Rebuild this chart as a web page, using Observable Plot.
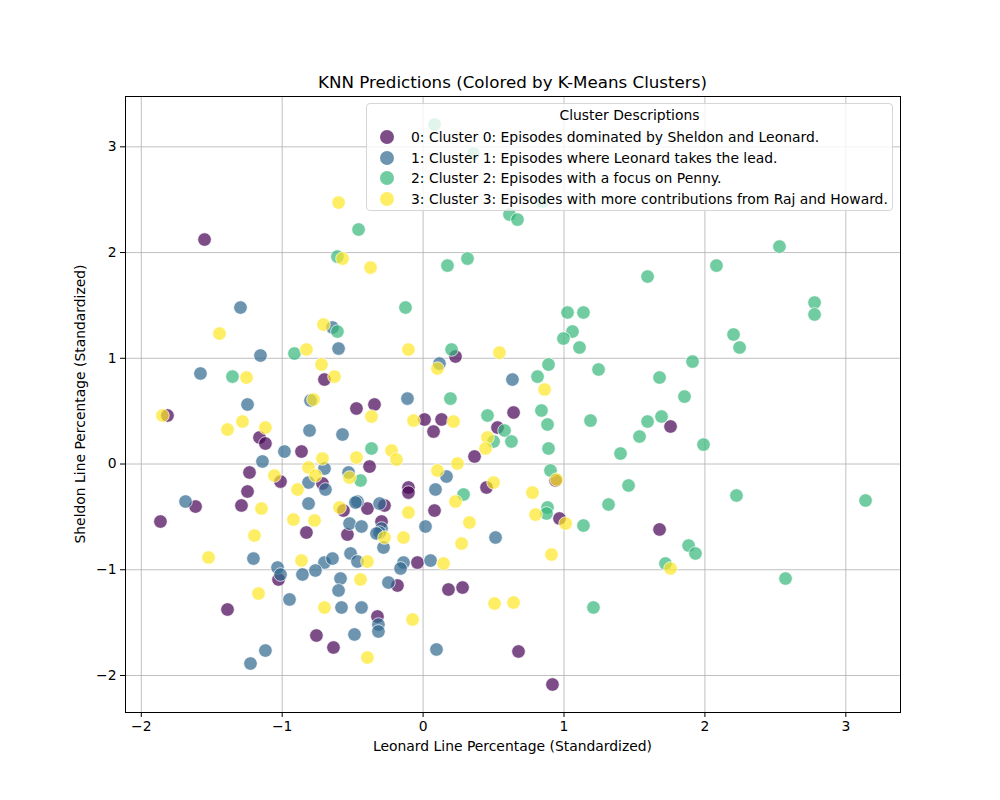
<!DOCTYPE html>
<html>
<head>
<meta charset="utf-8">
<script src="https://cdn.jsdelivr.net/npm/d3@7"></script>
<script src="https://cdn.jsdelivr.net/npm/@observablehq/plot@0.6"></script>
<style>
  body { margin: 0; background: #fff; font-family: "DejaVu Sans", sans-serif; }
  #wrap { position: relative; width: 1000px; height: 800px; }
  #chart { position: absolute; left: 0; top: 0; }
  .title { position: absolute; left: 125px; width: 775px; top: 72px; text-align: center; font-size: 16.7px; }
  .xlabel { position: absolute; left: 125px; width: 775px; top: 738px; text-align: center; font-size: 13.9px; }
  .ylabel { position: absolute; left: 80px; top: 404px; transform: translate(-50%, -50%) rotate(-90deg); white-space: nowrap; font-size: 13.9px; }
  .legend { position: absolute; left: 366px; top: 103px; width: 525px; height: 106px; background: rgba(255,255,255,0.8); border: 1px solid #d6d6d6; border-radius: 4px; font-size: 13.9px; }
  .legend .lt { position: absolute; left: 0; width: 100%; top: 3px; text-align: center; }
  .legend .row { position: absolute; left: 0; height: 20px; line-height: 20px; white-space: nowrap; }
  .legend .mk { position: absolute; left: 13px; top: 3px; width: 14px; height: 14px; border-radius: 50%; opacity: 0.7; }
  .legend .tx { position: absolute; left: 44px; top: 0; }
</style>
</head>
<body>
<div id="wrap">
  <div id="chart"></div>
  <div class="title">KNN Predictions (Colored by K-Means Clusters)</div>
  <div class="xlabel">Leonard Line Percentage (Standardized)</div>
  <div class="ylabel">Sheldon Line Percentage (Standardized)</div>
  <div class="legend" id="legend"></div>
</div>
<script>
// Cluster 0 (x, y)
const cluster0 = [
  [-1.551,2.123],[-1.814,0.459],[-1.161,0.251],[-1.119,0.194],[-0.863,0.118],[-1.232,-0.080],
  [-1.012,-0.166],[-0.714,-0.184],[-1.246,-0.260],[-1.615,-0.402],[-1.289,-0.392],[-1.864,-0.544],
  [-0.828,-0.648],[-1.388,-1.376],[-0.757,-1.622],[-1.026,-1.092],[-0.700,0.799],[0.230,1.017],
  [-0.473,0.525],[-0.345,0.563],[0.010,0.421],[0.131,0.421],[0.074,0.307],[0.528,0.345],
  [0.365,0.071],[-0.380,-0.024],[-0.104,-0.222],[-0.104,-0.270],[0.450,-0.222],[-0.565,-0.440],
  [-0.395,-0.421],[-0.274,-0.392],[0.081,-0.440],[-0.537,-0.667],[-0.295,-0.544],[-0.040,-0.932],
  [-0.182,-1.149],[0.180,-1.187],[0.280,-1.168],[-0.324,-1.442],[-0.636,-1.735],[0.642,0.487],
  [1.756,0.355],[0.940,-0.156],[0.968,-0.515],[1.678,-0.619],[0.677,-1.773],[0.918,-2.085]
];
// Cluster 1 (x, y)
const cluster1 = [
  [-1.296,1.480],[-1.154,1.026],[-1.580,0.856],[-1.246,0.563],[-0.799,0.601],[-0.806,0.317],
  [-0.984,0.118],[-1.140,0.024],[-0.813,-0.175],[-1.686,-0.355],[-0.813,-0.374],[-1.204,-0.894],
  [-0.700,-0.932],[-1.033,-0.979],[-1.012,-1.045],[-0.856,-1.045],[-0.764,-1.007],[-0.948,-1.281],
  [-1.119,-1.764],[-1.225,-1.887],[-0.643,1.291],[-0.600,1.092],[0.116,0.950],[-0.111,0.619],
  [-0.572,0.279],[-0.700,-0.043],[-0.529,-0.080],[0.166,-0.118],[-0.693,-0.241],[0.088,-0.241],
  [-0.466,-0.355],[-0.480,-0.364],[-0.309,-0.374],[-0.522,-0.563],[-0.437,-0.591],[-0.295,-0.610],
  [-0.309,-0.648],[-0.331,-0.657],[-0.281,-0.790],[0.017,-0.591],[0.514,-0.695],[-0.643,-0.894],
  [-0.515,-0.846],[-0.466,-0.922],[-0.139,-0.932],[-0.160,-0.988],[0.053,-0.913],[-0.586,-1.083],
  [-0.246,-1.121],[-0.600,-1.196],[-0.579,-1.357],[-0.437,-1.357],[-0.317,-1.518],[-0.317,-1.584],
  [-0.487,-1.612],[0.095,-1.754],[0.634,0.799]
];
// Cluster 2 (x, y)
const cluster2 = [
  [-0.913,1.045],[-1.353,0.827],[-0.125,1.480],[-0.608,1.253],[0.202,1.083],[0.194,0.619],
  [0.457,0.459],[0.500,0.213],[-0.366,0.147],[-0.444,-0.156],[0.287,-0.288],[1.025,1.433],
  [1.138,1.433],[1.060,1.253],[0.996,1.187],[1.110,1.102],[0.890,0.941],[1.912,0.969],
  [1.245,0.894],[1.678,0.818],[0.812,0.827],[1.855,0.638],[0.840,0.506],[1.188,0.411],
  [1.593,0.402],[1.692,0.449],[0.578,0.317],[0.883,0.374],[0.627,0.213],[1.536,0.260],
  [0.890,0.147],[1.401,0.099],[1.990,0.184],[0.904,-0.061],[1.458,-0.203],[1.316,-0.383],
  [0.883,-0.411],[0.876,-0.468],[1.138,-0.582],[1.884,-0.771],[1.933,-0.846],[1.720,-0.941],
  [1.209,-1.357],[2.529,2.057],[2.082,1.877],[2.778,1.527],[2.778,1.414],[2.203,1.225],
  [2.246,1.102],[2.224,-0.298],[3.140,-0.345],[2.572,-1.083],[1.593,1.773],[0.613,2.360],
  [0.670,2.312],[0.173,1.877],[0.315,1.943],[0.081,3.211],[0.358,2.936],[0.847,2.483],
  [-0.458,2.218],[-0.608,1.962]
];
// Cluster 3 (x, y)
const cluster3 = [
  [-1.445,1.234],[-0.828,1.083],[-1.253,0.818],[-0.721,0.941],[-0.778,0.610],[-1.850,0.459],
  [-1.282,0.402],[-1.388,0.326],[-1.119,0.345],[-0.714,0.052],[-0.813,-0.033],[-0.764,-0.109],
  [-1.055,-0.109],[-0.891,-0.241],[-1.147,-0.421],[-0.920,-0.525],[-0.771,-0.534],[-1.197,-0.676],
  [-1.523,-0.884],[-0.863,-0.913],[-1.168,-1.225],[-0.700,-1.357],[-0.707,1.319],[-0.104,1.083],
  [0.542,1.054],[0.102,0.903],[-0.629,0.827],[-0.366,0.449],[-0.068,0.411],[0.216,0.402],
  [0.457,0.251],[-0.224,0.128],[-0.189,0.043],[-0.473,0.061],[0.443,0.147],[0.244,0.005],
  [-0.522,-0.128],[0.102,-0.061],[0.500,-0.175],[0.230,-0.355],[-0.593,-0.411],[-0.104,-0.459],
  [0.329,-0.553],[0.273,-0.752],[-0.274,-0.695],[-0.139,-0.695],[-0.395,-0.922],[0.145,-0.941],
  [-0.444,-1.092],[0.507,-1.319],[-0.075,-1.471],[-0.395,-1.830],[0.862,0.705],[0.947,-0.147],
  [0.776,-0.270],[0.798,-0.478],[1.011,-0.563],[0.911,-0.856],[1.756,-0.988],[0.642,-1.310],
  [-0.600,2.473],[-0.572,1.943],[-0.373,1.858]
];
const clusterColors = ["#440154", "#31688e", "#35b779", "#fde725"];
const clusterLabels = [
  "0: Cluster 0: Episodes dominated by Sheldon and Leonard.",
  "1: Cluster 1: Episodes where Leonard takes the lead.",
  "2: Cluster 2: Episodes with a focus on Penny.",
  "3: Cluster 3: Episodes with more contributions from Raj and Howard."
];
const xTicks = [-2, -1, 0, 1, 2, 3];
const yTicks = [-2, -1, 0, 1, 2, 3];
const fmt = d3.format("d");

const data = [cluster0, cluster1, cluster2, cluster3].flatMap((arr, c) =>
  arr.map(([x, y]) => ({x, y, c}))
);

const chart = Plot.plot({
  width: 1000,
  height: 800,
  marginLeft: 125,
  marginRight: 100,
  marginTop: 96,
  marginBottom: 88,
  style: {fontFamily: "DejaVu Sans, sans-serif", fontSize: "13.9px", color: "black", background: "white"},
  x: {domain: [-2.112, 3.388], label: null},
  y: {domain: [-2.350, 3.476], label: null},
  color: {domain: [0, 1, 2, 3], range: clusterColors},
  marks: [
    Plot.gridX(xTicks, {stroke: "#b0b0b0", strokeOpacity: 1, strokeWidth: 0.8}),
    Plot.gridY(yTicks, {stroke: "#b0b0b0", strokeOpacity: 1, strokeWidth: 0.8}),
    Plot.dot(data, {x: "x", y: "y", fill: "c", r: 6.8, stroke: "white", strokeWidth: 1, fillOpacity: 0.7, strokeOpacity: 0.7}),
    Plot.frame({stroke: "black", strokeWidth: 1}),
    Plot.axisX(xTicks, {tickSize: 5, tickPadding: 4, label: null, fontSize: 13.9, tickFormat: fmt}),
    Plot.axisY(yTicks, {tickSize: 5, tickPadding: 4, label: null, fontSize: 13.9, tickFormat: fmt})
  ]
});
document.getElementById("chart").appendChild(chart);

const legend = document.getElementById("legend");
const lt = document.createElement("div");
lt.className = "lt";
lt.textContent = "Cluster Descriptions";
legend.appendChild(lt);
const rowTops = [23, 44, 64, 85];
clusterLabels.forEach((label, i) => {
  const row = document.createElement("div");
  row.className = "row";
  row.style.top = rowTops[i] + "px";
  const mk = document.createElement("div");
  mk.className = "mk";
  mk.style.background = clusterColors[i];
  const tx = document.createElement("div");
  tx.className = "tx";
  tx.textContent = label;
  row.appendChild(mk);
  row.appendChild(tx);
  legend.appendChild(row);
});
</script>
</body>
</html>
